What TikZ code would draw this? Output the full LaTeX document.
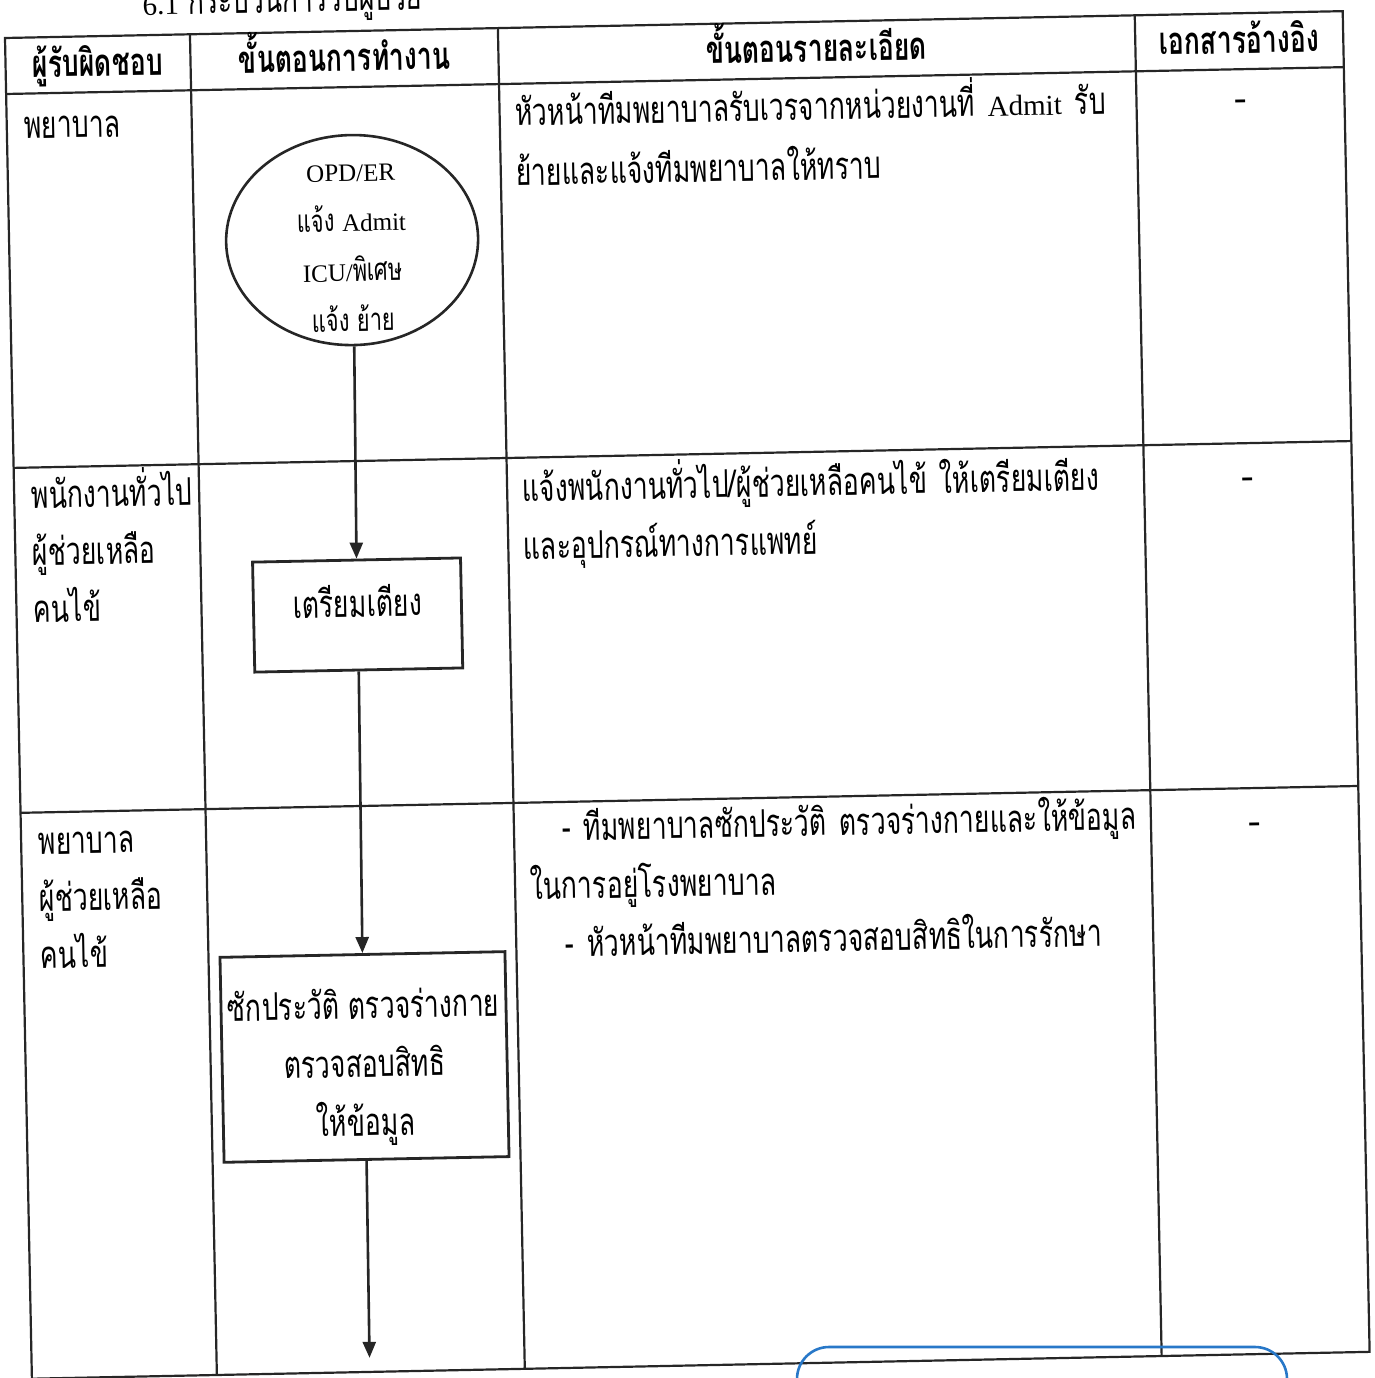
\documentclass[tikz,border=0pt]{standalone}
\usepackage{fontspec}
\setmainfont{Liberation Serif}
\newfontfamily\thaifont[Script=Thai,FakeStretch=0.70]{Loma}
\newfontfamily\latfont{Liberation Serif}
\newcommand\latword[1]{{\latfont\fontsize{29}{29}\selectfont #1}}
\newcommand\latsmall[1]{{\latfont\fontsize{25}{25}\selectfont #1}}
\usetikzlibrary{shapes.geometric}
\usetikzlibrary{arrows.meta}

\begin{document}
\begin{tikzpicture} [x=1pt,y=-1pt,
        tabline/.style={
            line width=2.2pt,
            draw=black!85},
        head/.style={
            font=\thaifont\bfseries\fontsize{38}{44}\selectfont,
            inner sep=0pt,
            anchor=base},
        lane/.style={
            font=\thaifont\fontsize{38}{57}\selectfont,
            align=left,
            text width=#1,
            inner sep=0pt,
            anchor=base west},
        inside/.style={
            inner sep=0pt,
            align=center,
            font=\thaifont\fontsize{38}{58.5}\selectfont},
        startnode/.style={
            ellipse,
            draw=black!85,
            line width=2.6pt,
            minimum width=252pt,
            minimum height=210pt,
            inner sep=0pt},
        stepbox/.style 2 args={
            rectangle,
            draw=black!85,
            line width=2.8pt,
            minimum width=#1,
            minimum height=#2,
            inner sep=0pt},
        flow/.style={
            line width=2.6pt,
            draw=black!85,
            -{Triangle[length=16pt,width=13pt]}},
        pen/.style={
            line width=2.6pt,
            draw={rgb,255:red,40;green,120;blue,200},
            rounded corners=32pt}]

    \useasboundingbox (0,0) rectangle (1375,1378);

    %scanned page is a little turned
    \begin{scope}[shift={(5,38)},rotate=1.15,transform shape]

    % title, cut by the page edge
    \node[head,font=\thaifont\fontsize{38}{44}\selectfont] (title) at (278,-20)
{\latword{6.1} กระบวนการรับผู้ป่วย};

    % table frame
    \draw[tabline] (0,0) rectangle (1338,1341);
    \foreach \u in {185,493,1130} {
        \draw[tabline] (\u,0) -- (\u,1341);
    }
    \foreach \v in {56,430,775} {
        \draw[tabline] (0,\v) -- (1338,\v);
    }

    % header row
    \node[head] (h_resp) at (92,40) {ผู้รับผิดชอบ};
    \node[head] (h_step) at (339,40) {ขั้นตอนการทำงาน};
    \node[head] (h_detail) at (811,40) {ขั้นตอนรายละเอียด};
    \node[head] (h_doc) at (1234,40) {เอกสารอ้างอิง};

    % who is in charge
    \node[lane=200pt] (resp1) at (17,101) {พยาบาล};
    \node[lane=200pt] (resp2) at (17,471) {พนักงานทั่วไป\\ผู้ช่วยเหลือ\\คนไข้};
    \node[lane=200pt] (resp3) at (17,817) {พยาบาล\\ผู้ช่วยเหลือ\\คนไข้};

    % detail column
    \node[lane=760pt,font=\thaifont\fontsize{38}{60}\selectfont] (detail1) at (508,98)
{หัวหน้าทีมพยาบาลรับเวรจากหน่วยงานที่ \latword{Admit} รับ\\ย้ายและแจ้งทีมพยาบาลให้ทราบ};
    \node[lane=760pt,font=\thaifont\fontsize{38}{58}\selectfont] (detail2) at (508,474)
{แจ้งพนักงานทั่วไป/ผู้ช่วยเหลือคนไข้ ให้เตรียมเตียง\\และอุปกรณ์ทางการแพทย์};
    \node[lane=760pt,font=\thaifont\fontsize{38}{58}\selectfont] (detail3) at (508,814)
{\hspace*{33pt}- ทีมพยาบาลซักประวัติ ตรวจร่างกายและให้ข้อมูล\\ในการอยู่โรงพยาบาล\\\hspace*{34pt}- หัวหน้าทีมพยาบาลตรวจสอบสิทธิในการรักษา};

    % reference column
    \foreach \v [count=\i] in {92,470,815} {
        \node[head,anchor=center,font=\latfont\fontsize{38}{44}\selectfont] (doc\i) at (1234,\v) {-};
    }

    % flow of work
    \node[startnode,label={[inside,yshift=-8pt,font=\thaifont\fontsize{31}{50}\selectfont]center:%
\latsmall{OPD/ER}\\แจ้ง \latsmall{Admit}\\\latsmall{ICU/}พิเศษ\\แจ้ง ย้าย}] (admit) at (343,209) {};
    \node[stepbox={208pt}{110pt},label={[inside,yshift=14pt]center:เตรียมเตียง}] (bed) at (341,584) {};
    \node[stepbox={285pt}{205pt},label={[inside,yshift=-10pt]center:%
ซักประวัติ ตรวจร่างกาย\\ตรวจสอบสิทธิ\\ให้ข้อมูล}] (history) at (339,1026) {};
    \coordinate (next) at (338,1327);

    \draw[flow] (admit.south) -- (bed.north);
    \draw[flow] (bed.south) -- (history.north);
    \draw[flow] (history.south) -- (next);

    \end{scope}

    % blue pen mark at the foot of the page
    \draw[pen] (797,1420) -- (797,1347) -- (1287,1347) -- (1287,1420);

\end{tikzpicture}
\end{document}
